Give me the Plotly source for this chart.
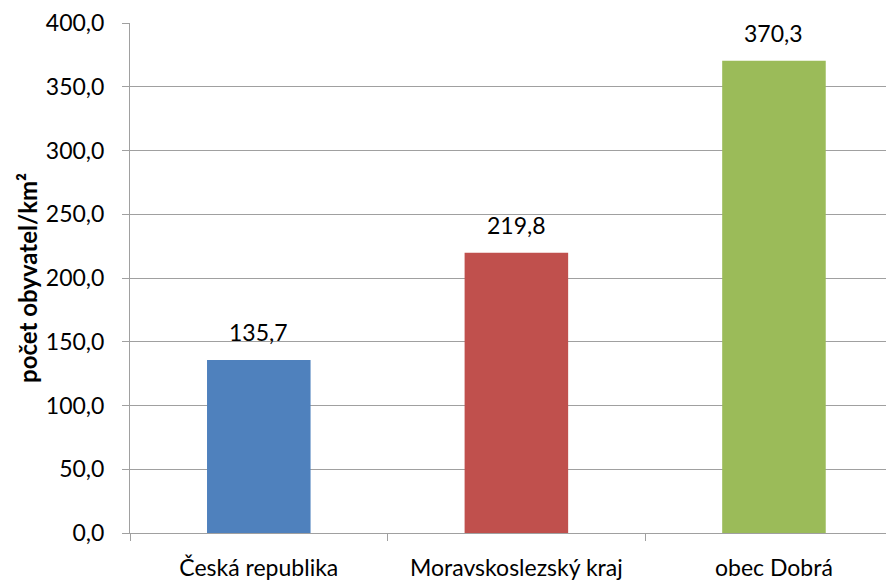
import plotly.graph_objects as go

categories = ["Česká republika", "Moravskoslezský kraj", "obec Dobrá"]
values = [135.7, 219.8, 370.3]
colors = ["#4F81BD", "#C0504D", "#9BBB59"]
y_title = "počet obyvatel/km²"

FONT = "Lato"
GRID = "#A0A0A0"

fig = go.Figure(go.Bar(
    x=categories, y=values,
    marker=dict(color=colors, line=dict(width=0)),
    width=0.402,
    hoverinfo="x+y",
))

for c, v in zip(categories, values):
    fig.add_annotation(
        x=c, y=v, xref="x", yref="y",
        text=f"{v:.1f}".replace(".", ","),
        showarrow=False, yshift=28, yanchor="middle",
        font=dict(family=FONT, size=23, color="black"),
    )

fig.add_annotation(
    x=0, y=0.5, xref="paper", yref="paper",
    xshift=-103, textangle=-90, showarrow=False,
    xanchor="center", yanchor="middle",
    text=f"<b>{y_title}</b>",
    font=dict(family=FONT, size=24, color="black"),
)

# page body has an 8px margin, so the figure is sized/offset to compensate
fig.update_layout(
    width=886, height=573,
    margin=dict(l=122, r=0, t=15, b=48),
    paper_bgcolor="white", plot_bgcolor="white",
    separators=",.",
    showlegend=False,
    font=dict(family=FONT, size=23, color="black"),
    xaxis=dict(
        type="category",
        range=[-0.5, 2.466],
        automargin=False,
        showline=True, linecolor=GRID, linewidth=1,
        ticks="outside", tickson="boundaries", ticklen=7, tickcolor=GRID,
        showgrid=False,
        ticklabelstandoff=14,
        tickfont=dict(family=FONT, size=23, color="black"),
    ),
    yaxis=dict(
        range=[0, 400], dtick=50, tickformat=".1f",
        automargin=False,
        showline=True, linecolor=GRID, linewidth=1,
        ticks="outside", ticklen=7, tickcolor=GRID,
        showgrid=True, gridcolor=GRID, gridwidth=1,
        zeroline=False,
        ticklabelstandoff=13,
        tickfont=dict(family=FONT, size=23, color="black"),
    ),
)

fig.write_html("out.html")
